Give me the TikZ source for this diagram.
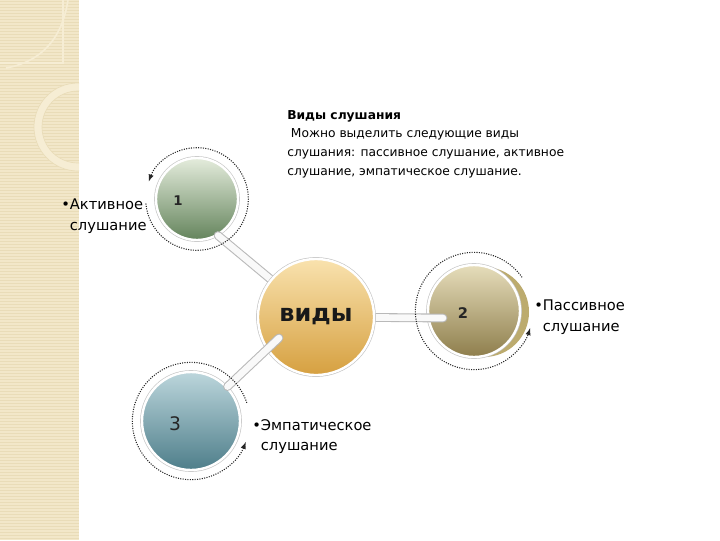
\documentclass[tikz,border=0pt]{standalone}
\usepackage{fontspec}
\setmainfont{DejaVu Sans}
\usetikzlibrary{calc}

\definecolor{bandbg}{HTML}{F2E7C9}
\definecolor{bandln}{HTML}{E9DCB8}
\definecolor{bandhi}{HTML}{F6EDD4}
\definecolor{greentop}{HTML}{E4ECDC}
\definecolor{greenmid}{HTML}{A8CE96}
\definecolor{greenbot}{HTML}{64845C}
\definecolor{goldtop}{HTML}{F9E2AE}
\definecolor{goldmid}{HTML}{F0C462}
\definecolor{goldbot}{HTML}{D6A040}
\definecolor{olivetop}{HTML}{E6DDBB}
\definecolor{olivemid}{HTML}{C9B678}
\definecolor{olivebot}{HTML}{8E7E4C}
\definecolor{oliveshd}{HTML}{BCAB6E}
\definecolor{tealtop}{HTML}{BCD6DC}
\definecolor{tealmid}{HTML}{80B0BC}
\definecolor{tealbot}{HTML}{4E7E8A}

\begin{document}
\begin{tikzpicture}[x=0.75pt, y=-0.75pt,
		every path/.style={>=latex},
		sphere/.style={circle, inner sep=0pt, draw=white, line width=1.8pt,
			preaction={draw=gray!45, line width=2.8pt}},
		tube/.style={draw=gray!55, double=white!95!gray, double distance=5pt, line width=0.8pt, line cap=round},
		ring/.style={->, densely dotted, line width=0.8pt, draw=black!85},
		info/.style={anchor=north west, align=left, inner sep=0pt, font=\fontsize{9.2}{14}\selectfont},
		lbl/.style={anchor=north west, align=left, inner sep=0pt, font=\fontsize{11}{15.5}\selectfont},
		num/.style={inner sep=0pt, text=black!85}]

	\useasboundingbox (0,0) rectangle (720,540);

	% left band
	\fill[bandbg] (0,0) rectangle (79,540);
	\foreach \y in {1,4,...,540}
		\draw[bandln, line width=0.5pt] (0,\y) -- (79,\y);
	\begin{scope}
		\clip (0,0) rectangle (79,540);
		\draw[bandhi, line width=1pt] (0,63) -- (63,63) -- (63,0);
		\draw[bandhi, line width=1.2pt] (68,0) .. controls (62,40) and (40,62) .. (6,68);
		\draw[bandhi, line width=6pt] (78,127) circle[radius=40];
		\draw[bandln, line width=0.5pt] (78,127) circle[radius=44] (78,127) circle[radius=36];
	\end{scope}

	% spheres
	\coordinate (Hc) at (316,317);
	\node[sphere, minimum size=61.5pt, top color=greentop, middle color=greenmid, bottom color=greenbot] (S1) at (197,199) {};
	\fill[oliveshd] (484,312) circle[radius=45];
	\node[sphere, minimum size=69pt, top color=olivetop, middle color=olivemid, bottom color=olivebot] (S2) at (474,311) {};
	\node[sphere, minimum size=73.5pt, top color=tealtop, middle color=tealmid, bottom color=tealbot] (S3) at (191,421) {};

	\coordinate (S2in) at ($(S2.center)+(-31,7)$);
	\draw[tube] (S1.-60) -- (Hc);
	\draw[tube] (Hc) -- (S2in);

	\node[sphere, minimum size=87pt, top color=goldtop, middle color=goldmid, bottom color=goldbot,
		text=black!90, font=\fontsize{18}{18}\selectfont\bfseries] (H) at (Hc) {виды};
	\coordinate (Hin) at ($(H.center)+(-37,21)$);
	\draw[tube] (Hin) -- (S3);

	% rings
	\draw[ring] (S1.center) ++(185:38.5pt) arc[start angle=185, end angle=520, radius=38.5pt];
	\draw[ring] (S2.center) ++(35:44pt) arc[start angle=35, end angle=343, radius=44pt];
	\draw[ring] (S3.center) ++(18:44pt) arc[start angle=18, end angle=339, radius=44pt];

	% numbers
	\node[num, font=\fontsize{10}{10}\selectfont\bfseries] (N1) at (178,201) {1};
	\node[num, font=\fontsize{11}{11}\selectfont\bfseries] (N2) at (463,313) {2};
	\node[num, font=\fontsize{14}{14}\selectfont] (N3) at (175,424) {3};

	% labels
	\node[lbl] (LA) at (61,199) {•Активное\\\phantom{•}слушание};
	\node[lbl] (LP) at (534,300) {•Пассивное\\\phantom{•}слушание};
	\node[lbl] (LE) at (252,419) {•Эмпатическое\\\phantom{•}слушание};

	\node[info] (T) at (287,110) {\textbf{Виды слушания}\\\hspace{0.3em}Можно выделить следующие виды\\слушания: пассивное слушание, активное\\слушание, эмпатическое слушание.};
\end{tikzpicture}
\end{document}
